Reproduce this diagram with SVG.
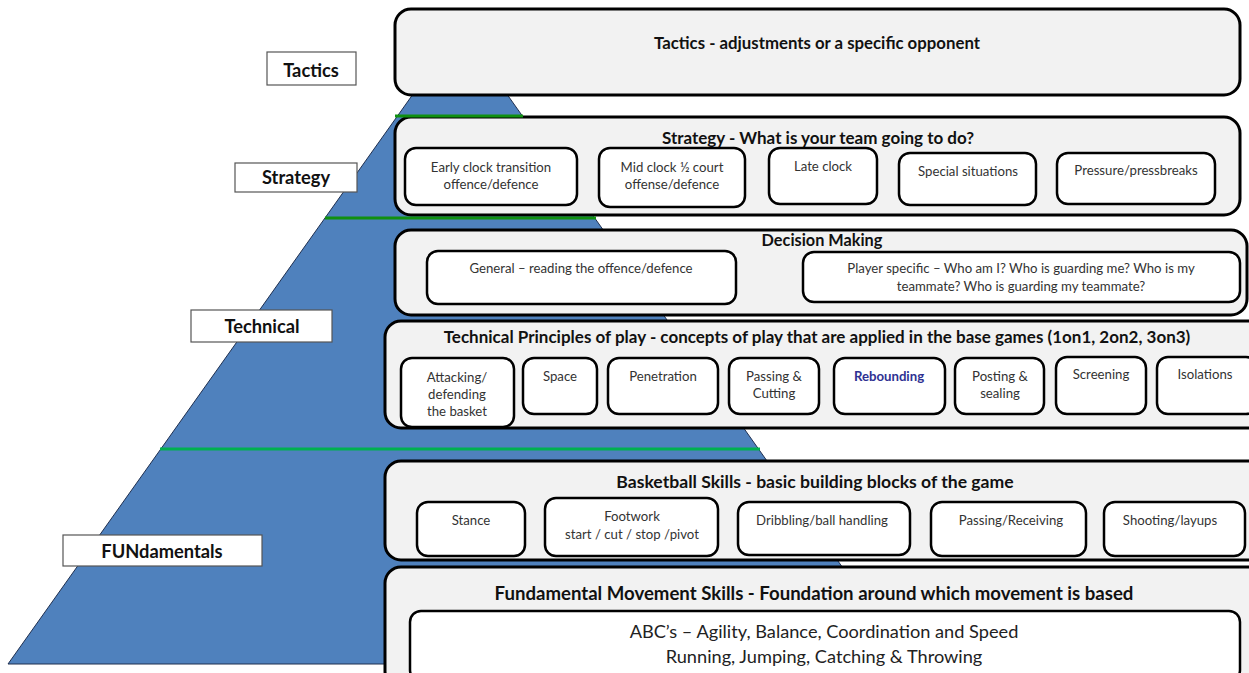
<svg xmlns="http://www.w3.org/2000/svg" width="1249" height="673" viewBox="0 0 1249 673">
<style>
.outer{fill:#f2f2f2;stroke:#000;stroke-width:3}
.inner{fill:#fff;stroke:#000;stroke-width:2.5}
.lbl{fill:#fff;stroke:#555;stroke-width:1.2}
text{font-family:Lato,"Open Sans","Liberation Sans",sans-serif;fill:#222;text-anchor:middle}
.t{font-weight:bold;font-size:17px;fill:#111}
.s{font-size:13.2px;fill:#333}
.l{font-weight:bold;font-size:18.3px;fill:#111}
.green{stroke:#109010;stroke-width:3}
.green2{stroke:#00b050;stroke-width:3}
</style>
<rect width="1249" height="673" fill="#fff"/>
<g id="pyramid">
<polygon points="460,28 911,664 8,664" fill="#4f81bd" stroke="#1f2f4f" stroke-width="1"/>
</g>
<g id="tactics">
<rect class="outer" x="395" y="9" width="845" height="86" rx="16"/>
<text class="t" x="817" y="49" style="font-size:16.8px">Tactics - adjustments or a specific opponent</text>
</g>
<g id="strategy">
<rect class="outer" x="395" y="117" width="845" height="98" rx="16"/>
<text class="t" x="818" y="144">Strategy - What is your team going to do?</text>
<g id="s1"><rect class="inner" x="405" y="148" width="172" height="57" rx="11"/><text class="s" x="491" y="172">Early clock transition</text><text class="s" x="491" y="189">offence/defence</text></g>
<g id="s2"><rect class="inner" x="599" y="148" width="146" height="59" rx="11"/><text class="s" x="672" y="172">Mid clock ½ court</text><text class="s" x="672" y="189">offense/defence</text></g>
<g id="s3"><rect class="inner" x="769" y="148" width="108" height="56" rx="11"/><text class="s" x="823" y="171">Late clock</text></g>
<g id="s4"><rect class="inner" x="899" y="153" width="137" height="52" rx="11"/><text class="s" x="968" y="176">Special situations</text></g>
<g id="s5"><rect class="inner" x="1057" y="153" width="158" height="51" rx="11"/><text class="s" x="1136" y="175">Pressure/pressbreaks</text></g>
</g>
<g id="decision">
<rect class="outer" x="395" y="230" width="852" height="85" rx="16"/>
<text class="t" x="822" y="246" style="font-size:16.3px">Decision Making</text>
<g id="d1"><rect class="inner" x="427" y="251" width="309" height="53" rx="11"/><text class="s" x="581" y="273">General – reading the offence/defence</text></g>
<g id="d2"><rect class="inner" x="803" y="252" width="437" height="50" rx="11"/><text class="s" x="1021" y="273">Player specific – Who am I? Who is guarding me? Who is my</text><text class="s" x="1021" y="291">teammate?  Who is guarding my teammate?</text></g>
</g>
<g id="technical">
<rect class="outer" x="385" y="321" width="880" height="107" rx="16"/>
<text class="t" x="817" y="343">Technical Principles of play - concepts of play that are applied in the base games (1on1, 2on2, 3on3)</text>
<g id="p1"><rect class="inner" x="401" y="358" width="113" height="69" rx="11"/><text class="s" x="457" y="382">Attacking/</text><text class="s" x="457" y="399">defending</text><text class="s" x="457" y="416">the basket</text></g>
<g id="p2"><rect class="inner" x="523" y="358" width="74" height="56" rx="11"/><text class="s" x="560" y="381">Space</text></g>
<g id="p3"><rect class="inner" x="608" y="358" width="110" height="56" rx="11"/><text class="s" x="663" y="381">Penetration</text></g>
<g id="p4"><rect class="inner" x="729" y="358" width="90" height="56" rx="11"/><text class="s" x="774" y="381">Passing &amp;</text><text class="s" x="774" y="398">Cutting</text></g>
<g id="p5"><rect class="inner" x="834" y="358" width="111" height="56" rx="11"/><text class="s" x="889" y="381" style="fill:#2e3192;font-weight:bold">Rebounding</text></g>
<g id="p6"><rect class="inner" x="955" y="358" width="89" height="56" rx="11"/><text class="s" x="1000" y="381">Posting &amp;</text><text class="s" x="1000" y="398">sealing</text></g>
<g id="p7"><rect class="inner" x="1056" y="357" width="90" height="57" rx="11"/><text class="s" x="1101" y="379">Screening</text></g>
<g id="p8"><rect class="inner" x="1157" y="357" width="100" height="57" rx="11"/><text class="s" x="1205" y="379">Isolations</text></g>
</g>
<g id="basketball">
<rect class="outer" x="385" y="461" width="880" height="99" rx="16"/>
<text class="t" x="815" y="488" style="font-size:17.6px">Basketball Skills - basic building blocks of the game</text>
<g id="b1"><rect class="inner" x="417" y="502" width="108" height="54" rx="11"/><text class="s" x="471" y="525">Stance</text></g>
<g id="b2"><rect class="inner" x="545" y="498" width="173" height="58" rx="11"/><text class="s" x="632" y="521">Footwork</text><text class="s" x="632" y="539">start / cut / stop /pivot</text></g>
<g id="b3"><rect class="inner" x="738" y="502" width="172" height="53" rx="11"/><text class="s" x="822" y="525">Dribbling/ball handling</text></g>
<g id="b4"><rect class="inner" x="931" y="502" width="155" height="54" rx="11"/><text class="s" x="1011" y="525">Passing/Receiving</text></g>
<g id="b5"><rect class="inner" x="1104" y="502" width="141" height="54" rx="11"/><text class="s" x="1170" y="525">Shooting/layups</text></g>
</g>
<g id="fundamental">
<rect class="outer" x="385" y="567" width="880" height="120" rx="16"/>
<text class="t" x="814" y="600" style="font-size:18.6px">Fundamental Movement Skills - Foundation around which movement is based</text>
<g id="f1"><rect class="inner" x="410" y="611" width="830" height="70" rx="11"/><text x="824" y="638" style="font-size:18.2px">ABC’s – Agility, Balance, Coordination and Speed</text><text x="824" y="663" style="font-size:18.2px">Running, Jumping, Catching &amp; Throwing</text></g>
</g>
<g id="connectors">
<line class="green" x1="395" y1="116" x2="523" y2="116"/>
<line class="green" x1="325" y1="218" x2="596" y2="218"/>
<line class="green2" x1="160" y1="449" x2="760" y2="449"/>
</g>
<g id="label-tactics"><rect class="lbl" x="267" y="52" width="89" height="33"/><text class="l" x="311" y="77">Tactics</text></g>
<g id="label-strategy"><rect class="lbl" x="235" y="163" width="122" height="29"/><text class="l" x="296" y="184">Strategy</text></g>
<g id="label-technical"><rect class="lbl" x="191" y="310" width="141" height="32"/><text class="l" x="262" y="333">Technical</text></g>
<g id="label-fundamentals"><rect class="lbl" x="63" y="535" width="199" height="31"/><text class="l" x="162" y="558">FUNdamentals</text></g>
</svg>
